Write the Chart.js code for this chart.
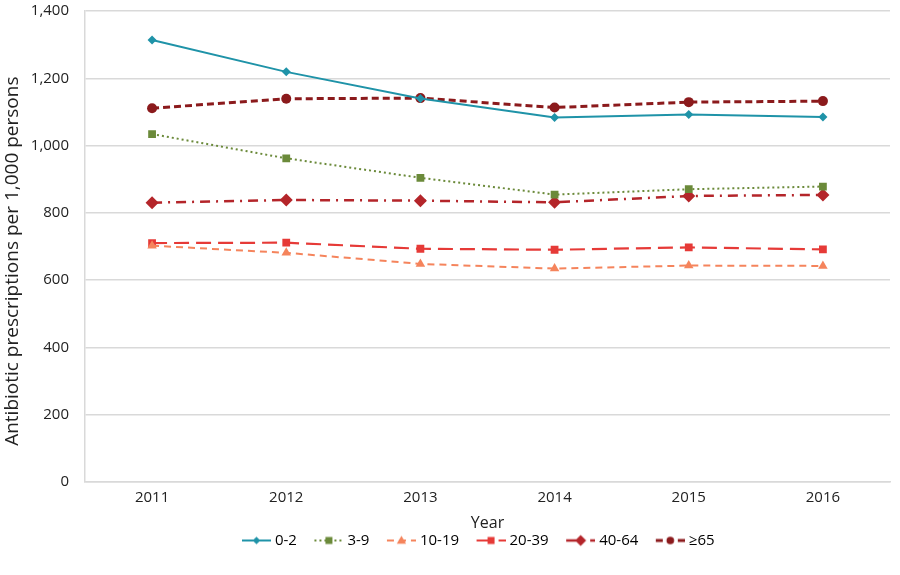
<!DOCTYPE html>
<html>
<head>
<meta charset="utf-8">
<script src="https://cdn.jsdelivr.net/npm/chart.js@4.4.1/dist/chart.umd.min.js"></script>
<style>
  html, body { margin: 0; padding: 0; background: #fff; }
  #wrap { width: 900px; height: 575px; }
</style>
</head>
<body>
<div id="wrap"><canvas id="chart"></canvas></div>
<script>
'use strict';

/* ── Data ── */
const years = ['2011', '2012', '2013', '2014', '2015', '2016'];
const age0to2   = [1314, 1219, 1140, 1083, 1092, 1085];
const age3to9   = [1034,  962,  904,  854,  870,  878];
const age10to19 = [ 702,  681,  648,  634,  643,  642];
const age20to39 = [ 710,  711,  693,  690,  697,  691];
const age40to64 = [ 830,  838,  836,  831,  850,  853];
const age65up   = [1111, 1139, 1141, 1113, 1129, 1132];
const yTicks = [0, 200, 400, 600, 800, 1000, 1200, 1400];

const FONT = "'Open Sans', sans-serif";
const SW_W = 50;     // legend swatch image width
const SW_LINE = 29;  // legend line length (drawn at the right end of the swatch)
const LEGEND_SHIFT = -18; // legend sits a little left of the plot centre

const series = [
  { label: '0-2',   data: age0to2,   color: '#1f93a8', dash: [],            width: 2,   point: 'rectRot',  radius: 4.5 },
  { label: '3-9',   data: age3to9,   color: '#6b8a3a', dash: [2, 3],        width: 2,   point: 'rect',     radius: 5.5 },
  { label: '10-19', data: age10to19, color: '#f5845c', dash: [7, 5],        width: 2,   point: 'triangle', radius: 5.5 },
  { label: '20-39', data: age20to39, color: '#e63a37', dash: [15, 7],       width: 2.2, point: 'rect',     radius: 5.5 },
  { label: '40-64', data: age40to64, color: '#b4252a', dash: [10, 6, 2, 6], width: 2.5, point: 'rectRot',  radius: 6.5 },
  { label: '≥65',   data: age65up,   color: '#8b1a1c', dash: [7, 4],        width: 3,   point: 'circle',   radius: 5 },
];

/* ── Legend swatch: short line with the marker in the middle ── */
const makeSwatch = (s) => {
  const c = document.createElement('canvas');
  c.width = SW_W; c.height = 14;
  const ctx = c.getContext('2d');
  const x0 = SW_W - SW_LINE;
  const cx = x0 + SW_LINE / 2, cy = 7;
  ctx.strokeStyle = s.color;
  ctx.lineWidth = s.width;
  ctx.setLineDash(s.dash);
  ctx.beginPath();
  ctx.moveTo(x0, cy); ctx.lineTo(SW_W, cy);
  ctx.stroke();
  ctx.setLineDash([]);
  ctx.fillStyle = s.color;
  const r = s.radius * 0.85;
  ctx.beginPath();
  if (s.point === 'rectRot') {
    ctx.moveTo(cx, cy - r); ctx.lineTo(cx + r, cy); ctx.lineTo(cx, cy + r); ctx.lineTo(cx - r, cy);
  } else if (s.point === 'rect') {
    const h = r * 0.75;
    ctx.rect(cx - h, cy - h, h * 2, h * 2);
  } else if (s.point === 'triangle') {
    ctx.moveTo(cx, cy - r); ctx.lineTo(cx + r, cy + r * 0.7); ctx.lineTo(cx - r, cy + r * 0.7);
  } else {
    ctx.arc(cx, cy, r * 0.9, 0, Math.PI * 2);
  }
  ctx.closePath();
  ctx.fill();
  return c;
};

/* ── Nudge the legend box sideways after layout ── */
const legendShift = {
  id: 'legendShift',
  afterLayout: (chart) => {
    if (!chart.legend) return;
    chart.legend.left += LEGEND_SHIFT;
    chart.legend.right += LEGEND_SHIFT;
  },
};

const build = () => {
  const datasets = series.map((s) => ({
    label: s.label,
    data: s.data,
    borderColor: s.color,
    backgroundColor: s.color,
    borderWidth: s.width,
    borderDash: s.dash,
    pointStyle: s.point,
    pointRadius: s.radius,
    pointBackgroundColor: s.color,
    pointBorderColor: s.color,
    pointBorderWidth: 0,
    tension: 0,
    fill: false,
    swatch: makeSwatch(s),
  }));

  new Chart(document.getElementById('chart'), {
    type: 'line',
    data: { labels: years, datasets },
    plugins: [legendShift],
    options: {
      responsive: true,
      maintainAspectRatio: false,
      animation: false,
      layout: { padding: { top: 0, right: 10, left: 0, bottom: 17 } },
      scales: {
        x: {
          offset: true,
          grid: { display: false, drawTicks: false },
          border: { display: true, color: '#d9d9d9', width: 1.5 },
          ticks: { color: '#222', font: { family: FONT, size: 15 }, padding: 7 },
          title: { display: true, text: 'Year', color: '#222', font: { family: FONT, size: 16 }, padding: { top: 0, bottom: 0 } },
        },
        y: {
          min: 0, max: 1400,
          afterBuildTicks: (axis) => { axis.ticks = yTicks.map((v) => ({ value: v })); },
          grid: { color: '#d9d9d9', lineWidth: 1.5, drawTicks: true, tickLength: 14, tickColor: 'rgba(0,0,0,0)' },
          border: { display: true, color: '#d9d9d9', width: 1.5 },
          ticks: {
            color: '#222', font: { family: FONT, size: 15 }, padding: 2,
            callback: (v) => v.toLocaleString('en-US'),
          },
          title: {
            display: true,
            // trailing spaces nudge the rotated title down, as in the original
            text: 'Antibiotic prescriptions per 1,000 persons\u00a0\u00a0\u00a0\u00a0\u00a0\u00a0',
            color: '#222', font: { family: FONT, size: 19 }, padding: { top: 1, bottom: 5 },
          },
        },
      },
      plugins: {
        legend: {
          position: 'bottom',
          fullSize: false,
          labels: {
            usePointStyle: true,
            pointStyleWidth: SW_W - 7,
            boxHeight: 14,
            padding: 0,
            color: '#222',
            font: { family: FONT, size: 15 },
            generateLabels: (chart) => chart.data.datasets.map((ds, i) => ({
              text: ds.label,
              pointStyle: ds.swatch,
              fillStyle: ds.borderColor,
              strokeStyle: ds.borderColor,
              lineWidth: 0,
              datasetIndex: i,
              hidden: false,
            })),
          },
        },
        tooltip: { enabled: false },
      },
    },
  });
};

document.fonts.load("15px 'Open Sans'").then(build, build);
</script>
</body>
</html>
